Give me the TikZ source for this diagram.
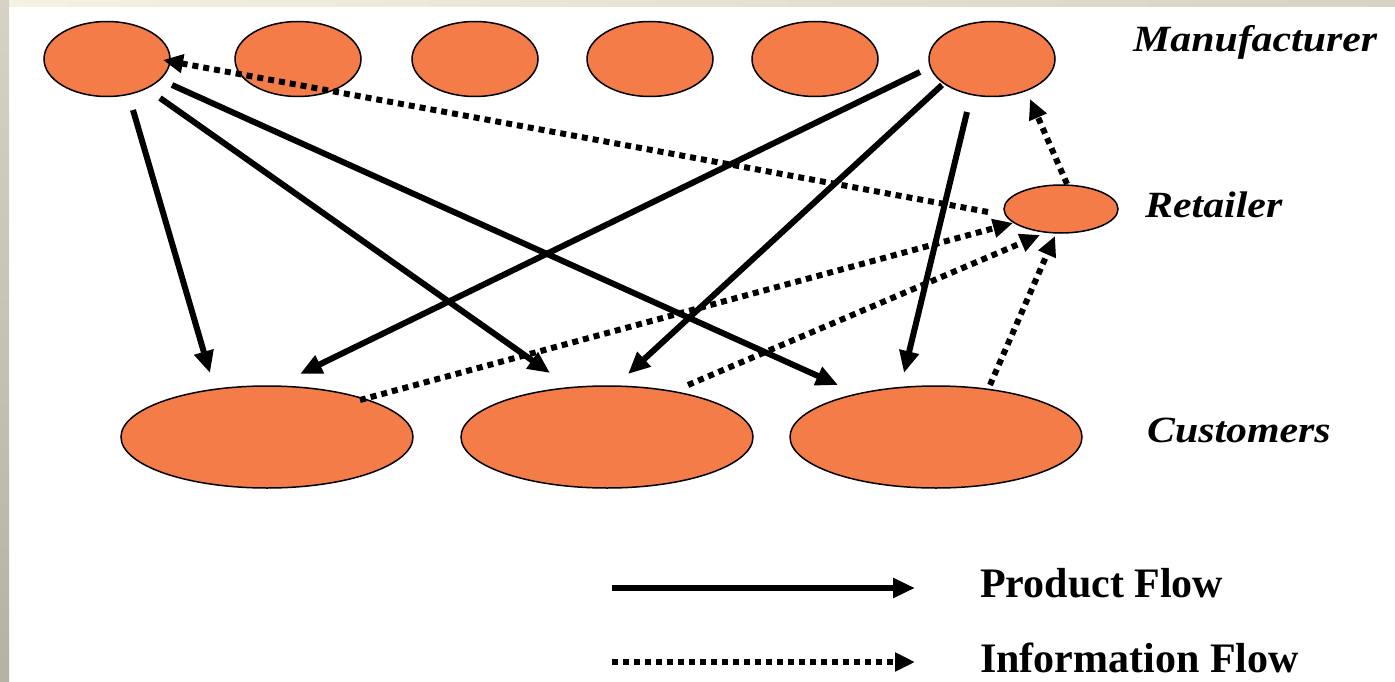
\documentclass[tikz,border=0pt]{standalone}
\usepackage{fontspec}
\setmainfont{Liberation Serif}
\usetikzlibrary{arrows.meta,shapes.geometric}
\definecolor{boxfill}{RGB}{243,124,72}
\definecolor{frameA}{RGB}{246,242,226}
\definecolor{frameB}{RGB}{214,211,196}
\definecolor{frameC}{RGB}{181,178,163}
\begin{document}
\begin{tikzpicture}[x=1pt,y=-1pt,
  party/.style={ellipse,draw=black,line width=1.5pt,fill=boxfill,inner sep=0pt},
  maker/.style={party,minimum width=126pt,minimum height=75pt},
  shop/.style={party,minimum width=114pt,minimum height=48pt},
  buyer/.style={party,minimum width=292pt,minimum height=102pt},
  prod/.style={line width=6pt,-{Triangle[length=22pt,width=19pt]}},
  info/.style={line width=6pt,dash pattern=on 6pt off 5pt,-{Triangle[length=20pt,width=18pt]}},
  role/.style={anchor=base west,inner sep=0pt,font=\fontsize{37}{44}\selectfont\bfseries\itshape},
  legendtext/.style={anchor=base west,inner sep=0pt,font=\fontsize{42}{48}\selectfont\bfseries}]
\useasboundingbox (0,0) rectangle (1395,682);
% page and frame
\fill[white] (0,0) rectangle (1395,682);
\shade[left color=frameA,right color=frameB] (0,0) rectangle (1395,7);
\shade[top color=frameB,bottom color=frameC] (0,0) rectangle (9,682);

% manufacturers
\node[maker] (m1) at (107,59) {};
\node[maker] (m2) at (298,59) {};
\node[maker] (m3) at (475,59) {};
\node[maker] (m4) at (650,59) {};
\node[maker] (m5) at (815,59) {};
\node[maker] (m6) at (992,59) {};
% retailer
\node[shop] (r) at (1061,209) {};
% customers
\node[buyer] (c1) at (267,437) {};
\node[buyer] (c2) at (607,437) {};
\node[buyer] (c3) at (936,437) {};

% level labels
\node[role] (lm) at (1133,52) {\scalebox{1.13}[1]{Manufacturer}};
\node[role] (lr) at (1145,217) {\scalebox{1.13}[1]{Retailer}};
\node[role] (lc) at (1147,442) {\scalebox{1.13}[1]{Customers}};

% product flow
\draw[prod] ([shift={(26,51)}]m1.center) -- ([shift={(-57,-64)}]c1.center);
\draw[prod] ([shift={(53,39)}]m1.center) -- ([shift={(-57,-64)}]c2.center);
\draw[prod] ([shift={(65,26)}]m1.center) -- ([shift={(-98,-52)}]c3.center);
\draw[prod] ([shift={(-72,13)}]m6.center) -- ([shift={(33,-63)}]c1.center);
\draw[prod] ([shift={(-50,26)}]m6.center) -- ([shift={(21,-63)}]c2.center);
\draw[prod] ([shift={(-25,53)}]m6.center) -- ([shift={(-32,-64)}]c3.center);

% information flow
\draw[info] ([shift={(-73,3)}]r.center) -- ([shift={(56,1)}]m1.center);
\draw[info] ([shift={(93,-37)}]c1.center) -- ([shift={(-48,14)}]r.center);
\draw[info] ([shift={(81,-52)}]c2.center) -- ([shift={(-21,26)}]r.center);
\draw[info] ([shift={(54,-52)}]c3.center) -- ([shift={(-6,27)}]r.center);
\draw[info] ([shift={(6,-25)}]r.center) -- ([shift={(38,40)}]m6.center);

% legend
\coordinate (pa) at (612,588);
\coordinate (pb) at (915,588);
\coordinate (ia) at (612,662);
\coordinate (ib) at (915,662);
\draw[prod] (pa) -- (pb);
\draw[info] (ia) -- (ib);
\node[legendtext] (lp) at (980,597) {Product Flow};
\node[legendtext] (li) at (980,672) {Information Flow};
\end{tikzpicture}
\end{document}
